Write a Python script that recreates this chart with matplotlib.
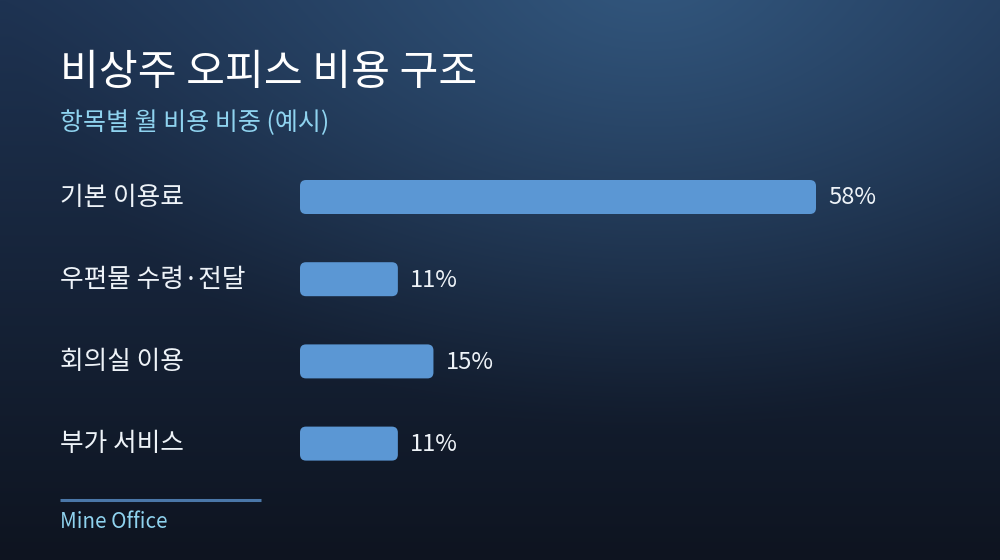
import numpy as np
import matplotlib
matplotlib.use("Agg")
import matplotlib.pyplot as plt
from matplotlib.patches import FancyBboxPatch
from matplotlib.transforms import blended_transform_factory
from matplotlib.colors import to_rgb

plt.rcParams['font.family'] = ['Noto Sans CJK KR', 'DejaVu Sans']

title = "비상주 오피스 비용 구조"
subtitle = "항목별 월 비용 비중 (예시)"
categories = ["기본 이용료", "우편물 수령·전달", "회의실 이용", "부가 서비스"]
values = [58, 11, 15, 11]
value_labels = ["58%", "11%", "15%", "11%"]
footer = "Mine Office"

W, H = 1000, 560
fig = plt.figure(figsize=(W / 100, H / 100), dpi=100)

# background gradient
yy, xx = np.mgrid[0:H, 0:W]
top = np.array(to_rgb("#1e3352"))
bot = np.array(to_rgb("#0e1420"))
t = np.clip(yy / H, 0, 1)[..., None]
base = top * (1 - t) + bot * t
glow = np.array(to_rgb("#33587f"))
d = np.sqrt(((xx - 650) / 650.0) ** 2 + ((yy + 40) / 470.0) ** 2)
g = np.clip(1 - d, 0, 1)[..., None] ** 1.2
img = base * (1 - g) + glow * g
bg = fig.add_axes([0, 0, 1, 1])
bg.imshow(img, aspect='auto', extent=[0, W, H, 0])
bg.axis('off')

# bar axes
px_per_unit = 516 / 58.0
ax_left_px, ax_w_px = 300, 600
row_h = 82.2
centers_top = 197
ax_top_px = centers_top - row_h / 2
ax_h_px = row_h * 4
ax = fig.add_axes([ax_left_px / W, 1 - (ax_top_px + ax_h_px) / H, ax_w_px / W, ax_h_px / H])
ax.set_xlim(0, ax_w_px / px_per_unit)
ax.set_ylim(3.5, -0.5)
ax.axis('off')
ax.patch.set_alpha(0)

bar_h = 34 / row_h
r_px = 6
rs = r_px / px_per_unit
aspect = (1 / row_h) / (1 / px_per_unit)
for i, v in enumerate(values):
    p = FancyBboxPatch((0, i - bar_h / 2), v, bar_h,
                       boxstyle=f"round,pad=0,rounding_size={rs}",
                       mutation_aspect=aspect, facecolor="#5b97d4", edgecolor="none")
    ax.add_patch(p)
    ax.annotate(value_labels[i], xy=(v, i), xytext=(12, -1), textcoords='offset pixels',
                ha='left', va='center', fontsize=17, color="#eef3f8")

tr = blended_transform_factory(fig.transFigure, ax.transData)
for i, c in enumerate(categories):
    ax.text(60 / W, i + 0.01, c, transform=tr, ha='left', va='center',
            fontsize=18.5, color="#eef3f8")

fig.text(60 / W, 1 - 73 / H, title, ha='left', va='center', fontsize=30.4, color="#ffffff")
fig.text(60 / W, 1 - 123 / H, subtitle, ha='left', va='center', fontsize=18, color="#8fd3ef")

bg.plot([60, 261], [500, 500], color="#4a77a8", lw=2.2, solid_capstyle='butt')
bg.set_xlim(0, W)
bg.set_ylim(H, 0)
fig.text(60 / W, 1 - 522 / H, footer, ha='left', va='center', fontsize=14.8, color="#8fd3ef")

fig.savefig("out.png", dpi=100)
